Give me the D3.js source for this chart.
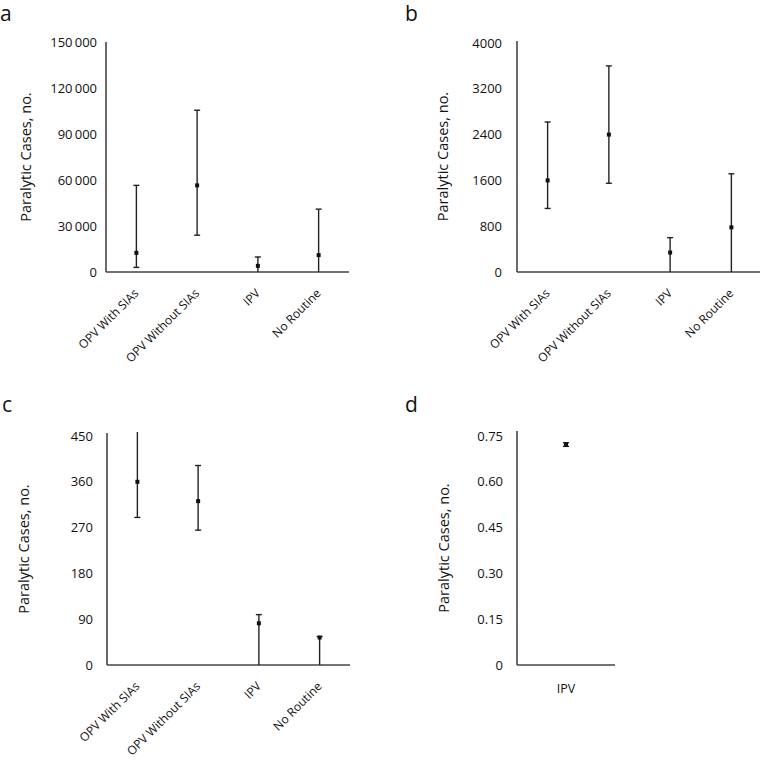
<!DOCTYPE html>
<html>
<head>
<meta charset="utf-8">
<script src="https://cdn.jsdelivr.net/npm/d3@7"></script>
<style>
  html, body { margin: 0; padding: 0; background: #fff; }
  svg { display: block; font-family: "Open Sans", "Noto Sans", sans-serif; }
</style>
</head>
<body>
<svg id="chart" width="760" height="762"></svg>
<script>
// ---------- data ----------
const categories = ["OPV With SIAs", "OPV Without SIAs", "IPV", "No Routine"];

const aMid  = [12500, 56500, 4000, 11000];
const aLow  = [3000, 24000, 0, 0];
const aHigh = [56500, 105500, 9800, 41000];
const aTicks = [0, 30000, 60000, 90000, 120000, 150000];
const aTickLabels = ["0", "30\u2009000", "60\u2009000", "90\u2009000", "120\u2009000", "150\u2009000"];

const bMid  = [1600, 2400, 340, 780];
const bLow  = [1110, 1550, 0, 0];
const bHigh = [2620, 3600, 600, 1715];
const bTicks = [0, 800, 1600, 2400, 3200, 4000];
const bTickLabels = ["0", "800", "1600", "2400", "3200", "4000"];

const cMid  = [360, 322, 82, 54];
const cLow  = [290, 265, 0, 0];
const cHigh = [470, 392, 99, 56];
const cTicks = [0, 90, 180, 270, 360, 450];
const cTickLabels = ["0", "90", "180", "270", "360", "450"];

const dCategories = ["IPV"];
const dMid  = [0.722];
const dLow  = [0.716];
const dHigh = [0.728];
const dTicks = [0, 0.15, 0.30, 0.45, 0.60, 0.75];
const dTickLabels = ["0", "0.15", "0.30", "0.45", "0.60", "0.75"];

const yTitle = "Paralytic Cases, no.";

// ---------- drawing ----------
const svg = d3.select("#chart");
const ink = "#222";
const axisInk = "#444";
const textInk = "#111";

function panel(o) {
  const g = svg.append("g");
  const x = d3.scaleBand().domain(o.cats).range([o.left, o.left + o.width]).padding(0);
  const yMax = o.ticks[o.ticks.length - 1];
  const y = d3.scaleLinear().domain([0, yMax]).range([o.bottom, o.top]);
  const axisTop = o.top - o.axisExtra;

  // panel letter
  g.append("text").attr("x", o.letterX).attr("y", o.letterY)
    .attr("font-size", 21).attr("fill", textInk).text(o.letter);

  // y axis (labels, no tick marks)
  const yAxis = d3.axisLeft(y).tickValues(o.ticks).tickSize(0).tickPadding(o.tickGap)
    .tickFormat((d, i) => o.tickLabels[i]);
  const ya = g.append("g").attr("transform", `translate(${o.left},0)`).call(yAxis);
  ya.select(".domain").remove();
  ya.selectAll("text").attr("font-size", 13).attr("fill", textInk)
    .attr("font-family", "'Open Sans', sans-serif");
  g.append("line").attr("x1", o.left).attr("x2", o.left)
    .attr("y1", axisTop).attr("y2", o.bottom)
    .attr("stroke", axisInk).attr("stroke-width", 1.6);

  // x axis line
  g.append("line").attr("x1", o.left).attr("x2", o.left + o.width)
    .attr("y1", o.bottom).attr("y2", o.bottom)
    .attr("stroke", axisInk).attr("stroke-width", 1.6);

  // y title
  g.append("text")
    .attr("transform", `translate(${o.titleX},${(o.bottom + axisTop) / 2}) rotate(-90)`)
    .attr("text-anchor", "middle").attr("dominant-baseline", "middle")
    .attr("font-size", 14.5).attr("fill", textInk).text(yTitle);

  // x labels
  o.cats.forEach(c => {
    const cx = x(c) + x.bandwidth() / 2;
    if (o.rotate) {
      g.append("text")
        .attr("transform", `translate(${cx + 3},${o.bottom + 22}) rotate(-45)`)
        .attr("text-anchor", "end").attr("font-size", 12).attr("fill", textInk).text(c);
    } else {
      g.append("text").attr("x", cx).attr("y", o.bottom + 28)
        .attr("text-anchor", "middle").attr("font-size", 12.5).attr("fill", textInk).text(c);
    }
  });

  // error bars
  const capW = 3;
  o.cats.forEach((c, i) => {
    const cx = x(c) + x.bandwidth() / 2;
    const hiClipped = o.high[i] > yMax;
    const yHi = hiClipped ? axisTop - 1 : y(o.high[i]);
    const yLo = y(o.low[i]);
    g.append("line").attr("x1", cx).attr("x2", cx).attr("y1", yHi).attr("y2", yLo)
      .attr("stroke", ink).attr("stroke-width", 1.4);
    if (!hiClipped) {
      g.append("line").attr("x1", cx - capW).attr("x2", cx + capW).attr("y1", yHi).attr("y2", yHi)
        .attr("stroke", ink).attr("stroke-width", 1.4);
    }
    if (o.low[i] > 0) {
      g.append("line").attr("x1", cx - capW).attr("x2", cx + capW).attr("y1", yLo).attr("y2", yLo)
        .attr("stroke", ink).attr("stroke-width", 1.4);
    }
    g.append("rect").attr("x", cx - 2).attr("y", y(o.mid[i]) - 2)
      .attr("width", 4).attr("height", 4).attr("fill", "#111");
  });
}

panel({ letter: "a", letterX: 0, letterY: 21, cats: categories, mid: aMid, low: aLow, high: aHigh,
  ticks: aTicks, tickLabels: aTickLabels, left: 106, width: 243, bottom: 272, top: 42, axisExtra: 0,
  tickGap: 9, titleX: 27, rotate: true });
panel({ letter: "b", letterX: 405, letterY: 21, cats: categories, mid: bMid, low: bLow, high: bHigh,
  ticks: bTicks, tickLabels: bTickLabels, left: 517, width: 245, bottom: 272, top: 43, axisExtra: 2,
  tickGap: 15, titleX: 444, rotate: true });
panel({ letter: "c", letterX: 2, letterY: 412, cats: categories, mid: cMid, low: cLow, high: cHigh,
  ticks: cTicks, tickLabels: cTickLabels, left: 107, width: 243, bottom: 665, top: 436, axisExtra: 3,
  tickGap: 14, titleX: 25, rotate: true });
panel({ letter: "d", letterX: 405, letterY: 412, cats: dCategories, mid: dMid, low: dLow, high: dHigh,
  ticks: dTicks, tickLabels: dTickLabels, left: 517, width: 98, bottom: 665, top: 436, axisExtra: 5,
  tickGap: 14, titleX: 445, rotate: false });
</script>
</body>
</html>
